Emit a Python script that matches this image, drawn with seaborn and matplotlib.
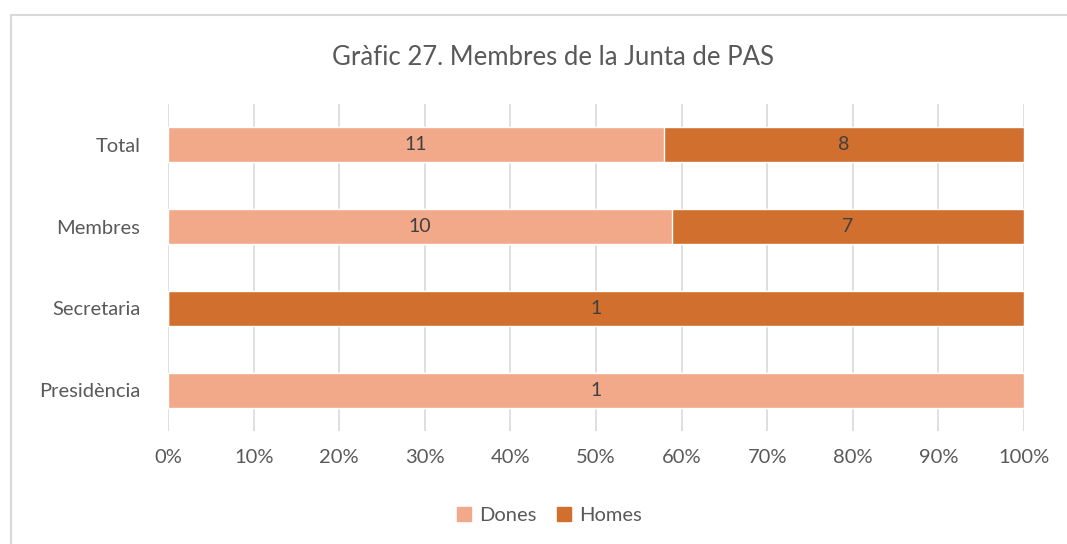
import pandas as pd
import matplotlib.pyplot as plt
import seaborn as sns
from matplotlib.patches import Rectangle

categories = ["Total", "Membres", "Secretaria", "Presidència"]
dones = [11, 10, 0, 1]
homes = [8, 7, 1, 0]

df = pd.DataFrame({"cat": categories, "Dones": dones, "Homes": homes})
df["n"] = df["Dones"] + df["Homes"]
df["pct_dones"] = df["Dones"] / df["n"] * 100
df["pct_total"] = 100.0

c_dones = "#F1A98A"
c_homes = "#D06F2E"
txt = "#595959"

sns.set_style("white")
plt.rcParams["font.family"] = ["Lato", "DejaVu Sans"]

fig = plt.figure(figsize=(10.67, 5.44), dpi=100)
ax = fig.add_axes([0.1575, 0.2077, 0.8022, 0.6011])

# homes = full bar underneath, dones stacked on the left
sns.barplot(data=df, y="cat", x="pct_total", color=c_homes, width=0.43,
            orient="h", ax=ax, zorder=2, saturation=1)
sns.barplot(data=df, y="cat", x="pct_dones", color=c_dones, width=0.43,
            orient="h", ax=ax, zorder=3, saturation=1)

for i, row in df.iterrows():
    if row["Dones"] > 0:
        ax.text(row["pct_dones"] / 2, i, str(row["Dones"]), ha="center", va="center",
                fontsize=14, color="#404040", zorder=5)
    if row["Homes"] > 0:
        ax.text((row["pct_dones"] + 100) / 2, i, str(row["Homes"]), ha="center", va="center",
                fontsize=14, color="#404040", zorder=5)

ax.set_xlim(0, 100)
ax.set_ylim(3.5, -0.5)
ax.set_xticks(range(0, 101, 10))
ax.set_xticklabels([f"{v}%" for v in range(0, 101, 10)])
ax.grid(axis="x", color="#D9D9D9", linewidth=1.2, zorder=0)
ax.set_axisbelow(True)
for s in ax.spines.values():
    s.set_visible(False)
ax.set_xlabel("")
ax.set_ylabel("")
ax.tick_params(axis="both", length=0, labelsize=14.5, labelcolor=txt)
ax.tick_params(axis="x", pad=13)
ax.tick_params(axis="y", pad=20)

fig.text(0.518, 0.895, "Gràfic 27. Membres de la Junta de PAS", ha="center", va="center",
         fontsize=18.5, color=txt)

handles = [Rectangle((0, 0), 1, 1, color=c_dones), Rectangle((0, 0), 1, 1, color=c_homes)]
fig.legend(handles, ["Dones", "Homes"], loc="center", bbox_to_anchor=(0.515, 0.053), ncol=2,
           frameon=False, fontsize=14.5, labelcolor=txt, handlelength=0.7, handleheight=0.7,
           handletextpad=0.4, columnspacing=1.0)

fig.patches.append(Rectangle((0.0103, -0.05), 1.1, 1.0224, transform=fig.transFigure,
                             fill=False, edgecolor="#D9D9D9", linewidth=1.5))

fig.savefig("out.png", dpi=100)
